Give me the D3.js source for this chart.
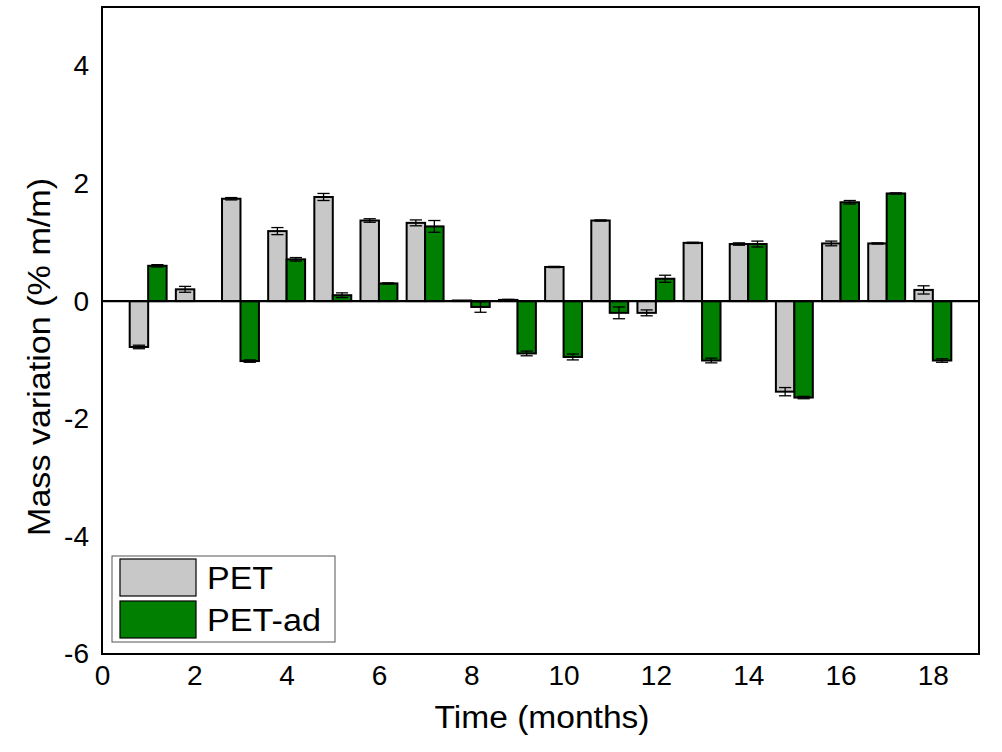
<!DOCTYPE html>
<html>
<head>
<meta charset="utf-8">
<title>Mass variation</title>
<script src="https://cdn.jsdelivr.net/npm/d3@7"></script>
<style>
  body { margin: 0; background: #fff; }
  text { font-family: "Liberation Sans", Arial, sans-serif; fill: #000; }
</style>
</head>
<body>
<div id="chart"></div>
<script>
// months and values
var months = [1,2,3,4,5,6,7,8,9,10,11,12,13,14,15,16,17,18];
var pet    = [-0.78,0.20,1.74,1.19,1.77,1.37,1.33,0.01,0.02,0.58,1.37,-0.20,0.99,0.97,-1.54,0.98,0.98,0.19];
var petErr = [0.03,0.05,0.02,0.06,0.06,0.03,0.05,0,0.01,0.01,0.01,0.05,0.01,0.02,0.07,0.04,0.01,0.07];
var petAd    = [0.60,0.00,-1.02,0.71,0.10,0.30,1.27,-0.10,-0.89,-0.95,-0.20,0.38,-1.01,0.97,-1.64,1.68,1.83,-1.01];
var petAdErr = [0.02,0,0.02,0.03,0.04,0.01,0.10,0.09,0.04,0.05,0.10,0.06,0.04,0.05,0.02,0.03,0.01,0.03];
var xTicks = [0,2,4,6,8,10,12,14,16,18];
var yTicks = [-6,-4,-2,0,2,4];
var series = [
  {name: "PET", vals: pet, err: petErr, color: "#c8c8c8", off: -0.4, len: 66},
  {name: "PET-ad", vals: petAd, err: petAdErr, color: "#007f00", off: 0, len: 114}
];

var W = 1002, H = 752;
var L = 102, R = 979, T = 7, B = 654;
var barW = 0.4;

var svg = d3.select("#chart").append("svg").attr("width", W).attr("height", H);

var x = d3.scaleLinear().domain([0, 19]).range([L, R]);
var y = d3.scaleLinear().domain([-6, 5]).range([B, T]);

// bars + error bars
series.forEach(function(s){
  var g = svg.append("g");
  months.forEach(function(m, i){
    var v = s.vals[i];
    var x0 = x(m + s.off), x1 = x(m + s.off + barW);
    g.append("rect")
      .attr("x", x0).attr("width", x1 - x0)
      .attr("y", y(Math.max(0, v))).attr("height", Math.abs(y(v) - y(0)))
      .attr("fill", s.color).attr("stroke", "#000").attr("stroke-width", 2);
    if (s.err[i] > 0) {
      var cx = (x0 + x1) / 2, hw = (x1 - x0) * 0.33;
      var ya = y(v + s.err[i]), yb = y(v - s.err[i]);
      g.append("line").attr("x1", cx).attr("x2", cx).attr("y1", ya).attr("y2", yb)
        .attr("stroke", "#000").attr("stroke-width", 1.3);
      [ya, yb].forEach(function(yy){
        g.append("line").attr("x1", cx - hw).attr("x2", cx + hw).attr("y1", yy).attr("y2", yy)
          .attr("stroke", "#000").attr("stroke-width", 1.3);
      });
    }
  });
});

// zero line
svg.append("line").attr("x1", L).attr("x2", R).attr("y1", y(0)).attr("y2", y(0))
  .attr("stroke", "#000").attr("stroke-width", 2.2);

// frame
svg.append("rect").attr("x", L).attr("y", T).attr("width", R - L).attr("height", B - T)
  .attr("fill", "none").attr("stroke", "#000").attr("stroke-width", 2);

// axes (labels only, no tick marks)
var xAxis = svg.append("g").attr("transform", "translate(0," + B + ")")
  .call(d3.axisBottom(x).tickValues(xTicks).tickSize(0).tickPadding(11));
var yAxis = svg.append("g").attr("transform", "translate(" + L + ",0)")
  .call(d3.axisLeft(y).tickValues(yTicks).tickSize(0).tickPadding(13)
    .tickFormat(function(d){ return d < 0 ? "-" + Math.abs(d) : d; }));
[xAxis, yAxis].forEach(function(a){
  a.select(".domain").remove();
  a.selectAll("text").style("font-size", "28px").style("font-family", "Liberation Sans, Arial, sans-serif");
});

// axis titles
svg.append("text").attr("x", 542).attr("y", 728)
  .attr("text-anchor", "middle").style("font-size", "31px")
  .attr("textLength", 215).attr("lengthAdjust", "spacingAndGlyphs").text("Time (months)");
svg.append("text").attr("transform", "translate(50,357) rotate(-90)")
  .attr("text-anchor", "middle").style("font-size", "31px")
  .attr("textLength", 358).attr("lengthAdjust", "spacingAndGlyphs").text("Mass variation (% m/m)");

// legend
var lg = svg.append("g");
lg.append("rect").attr("x", 112).attr("y", 556).attr("width", 223).attr("height", 86)
  .attr("fill", "#fff").attr("stroke", "#555").attr("stroke-width", 1);
series.forEach(function(s, i){
  var yy = 559 + i * 42;
  lg.append("rect").attr("x", 120).attr("y", yy).attr("width", 76).attr("height", 37)
    .attr("fill", s.color).attr("stroke", "#000").attr("stroke-width", 1.2);
  lg.append("text").attr("x", 207).attr("y", yy + 30).style("font-size", "31px")
    .attr("textLength", s.len).attr("lengthAdjust", "spacingAndGlyphs").text(s.name);
});
</script>
</body>
</html>
